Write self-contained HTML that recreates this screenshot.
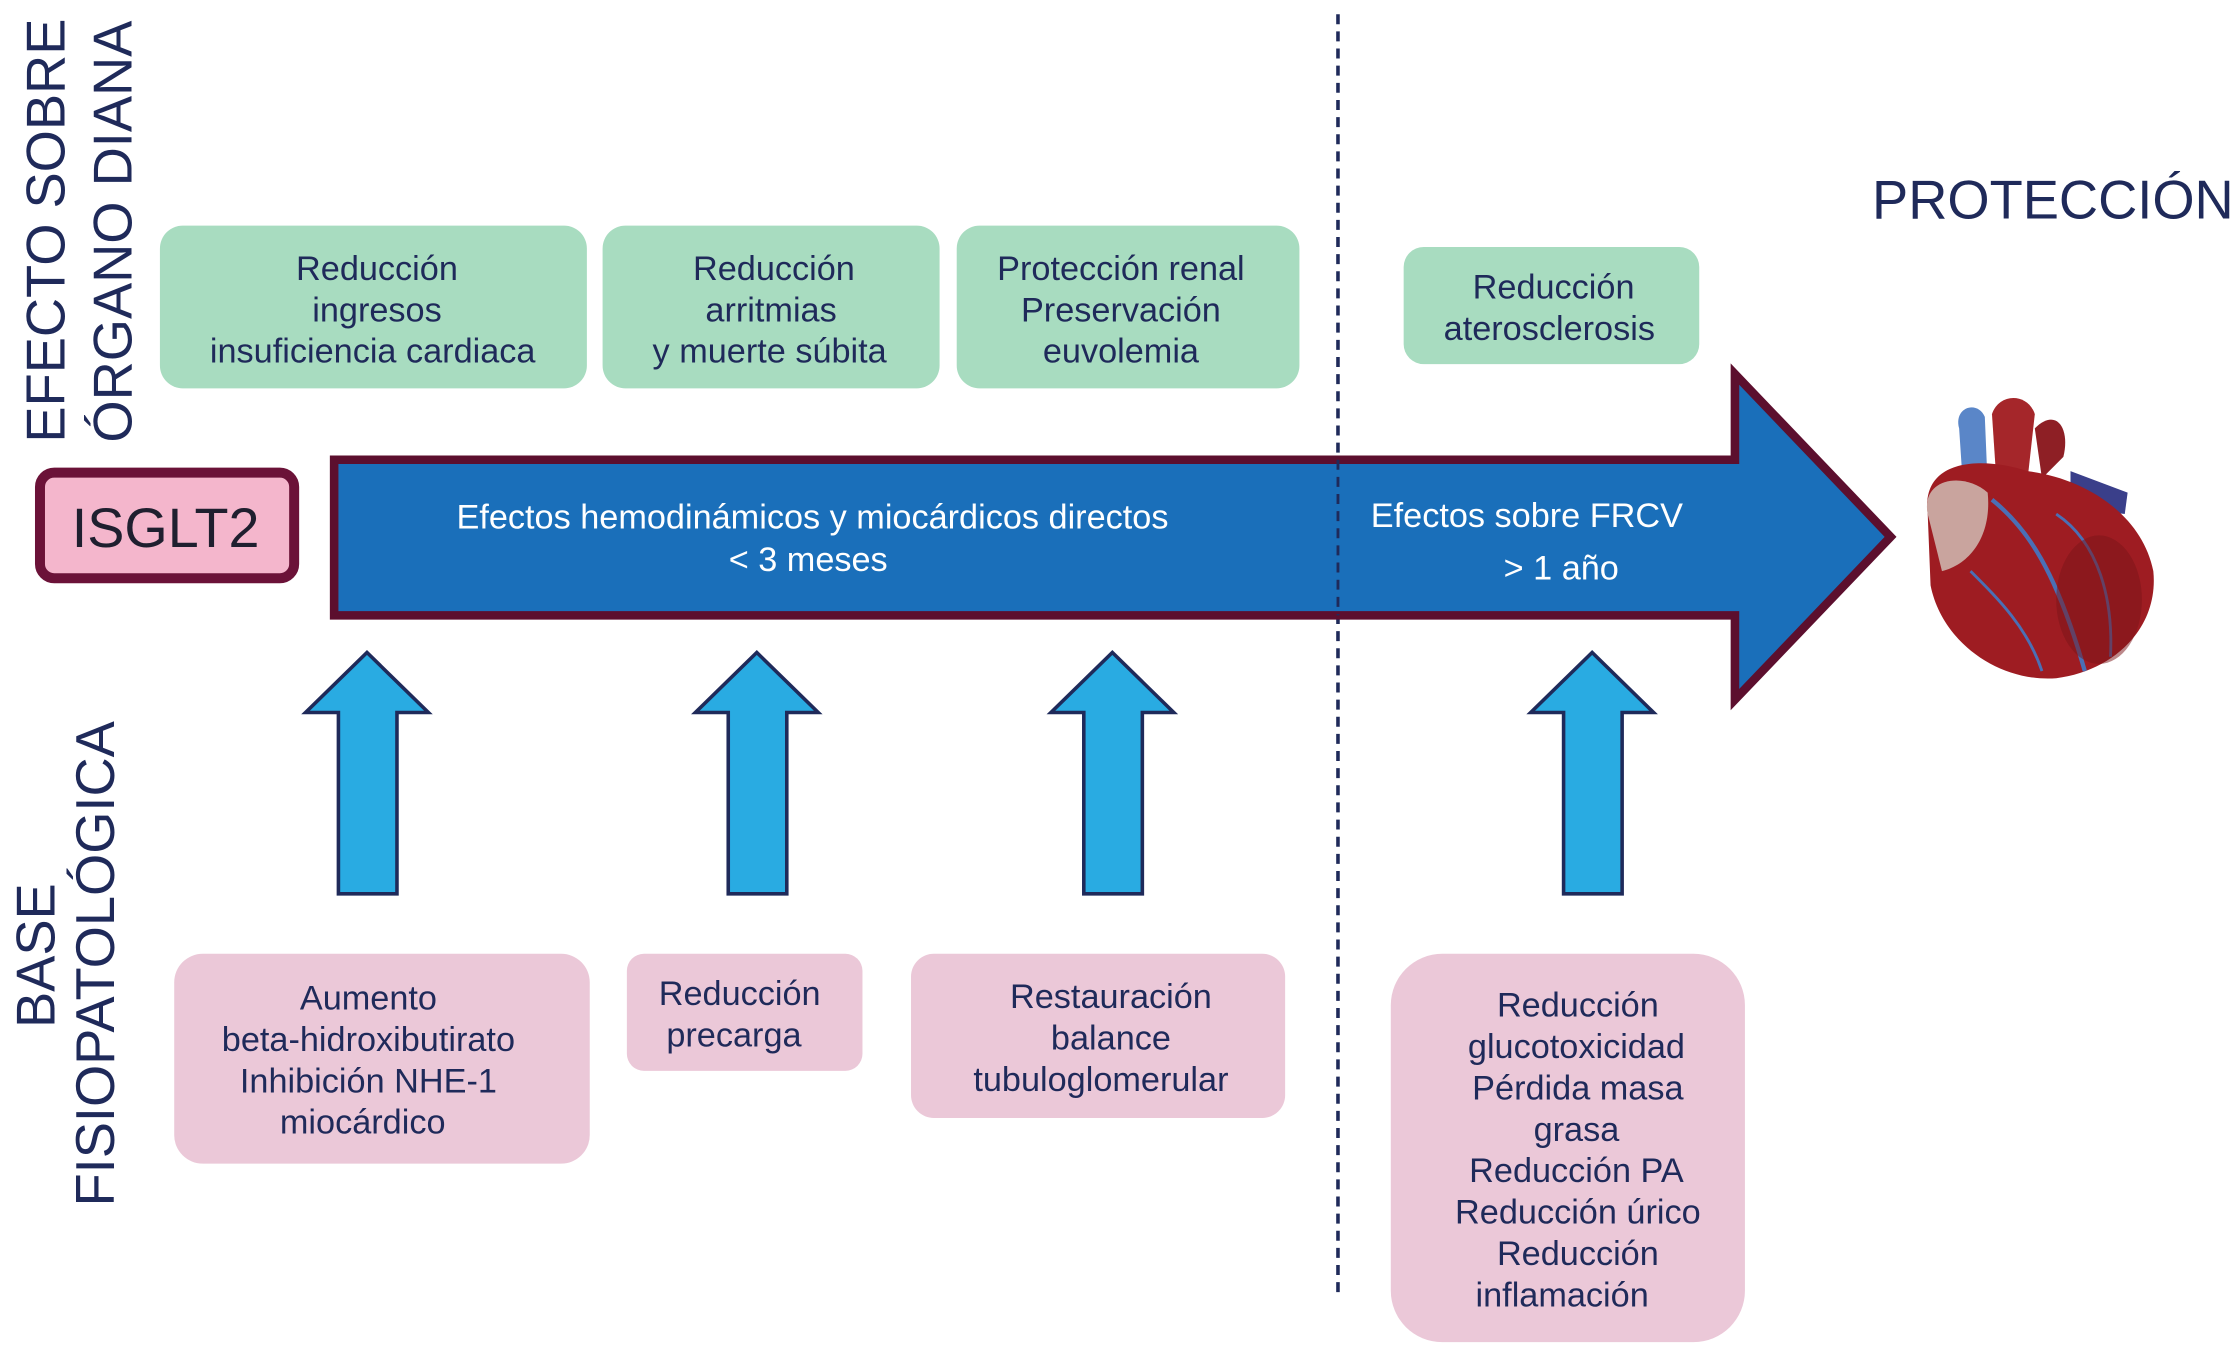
<!DOCTYPE html>
<html><head><meta charset="utf-8"><style>
html,body{margin:0;padding:0;background:#fff;}
svg{display:block;}
text{font-family:"Liberation Sans",sans-serif;}
</style></head><body>
<svg width="2239" height="1345" viewBox="0 0 1568 942" preserveAspectRatio="none" xmlns="http://www.w3.org/2000/svg">
<g fill="#1f2a5a" font-size="38">
<text transform="translate(45,310) rotate(-90)">EFECTO SOBRE</text>
<text transform="translate(92,310) rotate(-90)">ÓRGANO DIANA</text>
<text transform="translate(38,720) rotate(-90)">BASE</text>
<text transform="translate(80,845) rotate(-90)">FISIOPATOLÓGICA</text>
</g>
<line x1="937" y1="10" x2="937" y2="905" stroke="#1f2a5a" stroke-width="2.5" stroke-dasharray="7,5"/>
<path d="M234,322 L1215,322 L1215,262 L1324,376 L1215,490 L1215,431 L234,431 Z" fill="#1a6fba" stroke="#5c0f2e" stroke-width="6" stroke-linejoin="miter"/>
<line x1="937" y1="322" x2="937" y2="431" stroke="#1f2a5a" stroke-width="2" stroke-dasharray="7,5"/>
<g fill="#fff" font-size="24">
<text x="569" y="370" text-anchor="middle">Efectos hemodinámicos y miocárdicos directos</text>
<text x="566" y="400" text-anchor="middle">&lt; 3 meses</text>
<text x="960" y="369">Efectos sobre FRCV</text>
<text x="1053" y="406">&gt; 1 año</text>
</g>
<rect x="28" y="331" width="178" height="74" rx="10" fill="#f4b6cc" stroke="#6b1238" stroke-width="7"/>
<text x="116" y="383" text-anchor="middle" font-size="39" fill="#1f1f2f">ISGLT2</text>
<g fill="#a8dcc0">
<rect x="112" y="158" width="299" height="114" rx="16"/>
<rect x="422" y="158" width="236" height="114" rx="16"/>
<rect x="670" y="158" width="240" height="114" rx="16"/>
<rect x="983" y="173" width="207" height="82" rx="14"/>
</g>
<g fill="#1f2a5a" font-size="24" text-anchor="middle">
<text x="264" y="196">Reducción</text><text x="264" y="225">ingresos</text><text x="261" y="254">insuficiencia cardiaca</text>
<text x="542" y="196">Reducción</text><text x="540" y="225">arritmias</text><text x="539" y="254">y muerte súbita</text>
<text x="785" y="196">Protección renal</text><text x="785" y="225">Preservación</text><text x="785" y="254">euvolemia</text>
<text x="1088" y="209">Reducción</text><text x="1085" y="238">aterosclerosis</text>
</g>
<text x="1311" y="153" font-size="38" fill="#1f2a5a">PROTECCIÓN</text>
<g>
<path d="M1372,300 C1368,285 1385,280 1390,292 L1392,340 L1375,345 Z" fill="#5a86c8"/>
<path d="M1395,290 C1400,275 1420,275 1425,290 L1420,335 L1398,335 Z" fill="#a5262a"/>
<path d="M1425,300 C1440,285 1450,300 1445,320 L1430,335 Z" fill="#8e1f25"/>
<path d="M1450,330 L1490,345 L1488,360 L1450,355 Z" fill="#3a3f8a"/>
<path d="M1350,360 C1345,320 1390,320 1420,330 C1460,335 1500,360 1508,400 C1512,440 1480,470 1440,475 C1400,478 1360,450 1352,410 Z" fill="#9e1c22"/>
<path d="M1350,360 C1345,335 1375,330 1392,345 C1395,375 1380,395 1360,400 Z" fill="#c9a49e"/>
<path d="M1395,350 C1420,370 1440,400 1460,470" stroke="#4a6fb5" stroke-width="3" fill="none"/>
<path d="M1440,360 C1470,380 1480,420 1478,460" stroke="#4a6fb5" stroke-width="2" fill="none"/>
<path d="M1380,400 C1400,420 1420,440 1430,470" stroke="#4a6fb5" stroke-width="2" fill="none"/>
<ellipse cx="1470" cy="420" rx="30" ry="45" fill="#7a1418" opacity="0.5"/>
</g>
<g fill="#29abe2" stroke="#1f2a5a" stroke-width="2.5" stroke-linejoin="miter">
<path d="M237,626 L237,499 L214,499 L257,457 L300,499 L278,499 L278,626 Z"/>
<path d="M510,626 L510,499 L487,499 L530,457 L573,499 L551,499 L551,626 Z"/>
<path d="M759,626 L759,499 L736,499 L779,457 L822,499 L800,499 L800,626 Z"/>
<path d="M1095,626 L1095,499 L1072,499 L1115,457 L1158,499 L1136,499 L1136,626 Z"/>
</g>
<g fill="#ebc8d8">
<rect x="122" y="668" width="291" height="147" rx="20"/>
<rect x="439" y="668" width="165" height="82" rx="12"/>
<rect x="638" y="668" width="262" height="115" rx="16"/>
<rect x="974" y="668" width="248" height="272" rx="36"/>
</g>
<g fill="#1f2a5a" font-size="24" text-anchor="middle">
<text x="258" y="707">Aumento</text><text x="258" y="736">beta-hidroxibutirato</text><text x="258" y="765">Inhibición NHE-1</text><text x="254" y="794">miocárdico</text>
<text x="518" y="704">Reducción</text><text x="514" y="733">precarga</text>
<text x="778" y="706">Restauración</text><text x="778" y="735">balance</text><text x="771" y="764">tubuloglomerular</text>
<text x="1105" y="712">Reducción</text><text x="1104" y="741">glucotoxicidad</text><text x="1105" y="770">Pérdida masa</text><text x="1104" y="799">grasa</text><text x="1104" y="828">Reducción PA</text><text x="1105" y="857">Reducción úrico</text><text x="1105" y="886">Reducción</text><text x="1094" y="915">inflamación</text>
</g>
</svg>
</body></html>
